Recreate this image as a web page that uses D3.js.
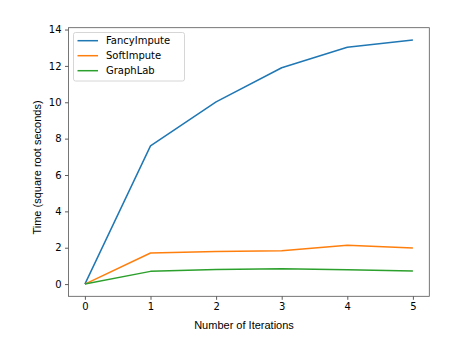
<!DOCTYPE html>
<html>
<head>
<meta charset="utf-8">
<script src="https://cdn.jsdelivr.net/npm/d3@7"></script>
<style>
  html, body { margin: 0; padding: 0; background: #fff; }
  svg { display: block; }
  text { font-family: "DejaVu Sans", sans-serif; fill: #000; }
</style>
</head>
<body>
<svg id="chart" width="471" height="345"></svg>
<script>
// Iteration counts on the x axis
const iterations = [0, 1, 2, 3, 4, 5];

// Timings (square root seconds) per method
const fancyImpute = [0, 7.6, 10.02, 11.9, 13.03, 13.43];
const softImpute  = [0, 1.71, 1.79, 1.84, 2.14, 1.98];
const graphLab    = [0, 0.7, 0.8, 0.84, 0.79, 0.72];

const seriesNames  = ["FancyImpute", "SoftImpute", "GraphLab"];
const seriesValues = [fancyImpute, softImpute, graphLab];
const seriesColors = ["#1f77b4", "#ff7f0e", "#2ca02c"];

const yTicks = [0, 2, 4, 6, 8, 10, 12, 14];

const margin = { left: 68.5, top: 27.7, right: 471 - 429.3, bottom: 345 - 296.3 };
const svg = d3.select("#chart");
const W = +svg.attr("width"), H = +svg.attr("height");

// matplotlib-style 5% padding around the data range
const xMin = 0, xMax = 5;
const yMin = 0, yMax = d3.max(seriesValues.flat());
const xPad = (xMax - xMin) * 0.05, yPad = (yMax - yMin) * 0.05;

const x = d3.scaleLinear().domain([xMin - xPad, xMax + xPad]).range([margin.left, W - margin.right]);
const y = d3.scaleLinear().domain([yMin - yPad, yMax + yPad]).range([H - margin.bottom, margin.top]);

// Axes
const xAxis = d3.axisBottom(x).tickValues(iterations).tickFormat(d3.format("d")).tickSizeOuter(0).tickSize(3.5).tickPadding(3.5);
const yAxis = d3.axisLeft(y).tickValues(yTicks).tickFormat(d3.format("d")).tickSizeOuter(0).tickSize(3.5).tickPadding(3.5);

const gx = svg.append("g").attr("transform", `translate(0,${H - margin.bottom})`).call(xAxis);
const gy = svg.append("g").attr("transform", `translate(${margin.left},0)`).call(yAxis);
[gx, gy].forEach(g => {
  g.select(".domain").remove();
  g.selectAll(".tick line").attr("stroke", "#333").attr("stroke-width", 0.8);
  g.selectAll(".tick text").attr("font-size", 10).attr("fill", "#333").style("font-family", "DejaVu Sans, sans-serif");
});

// Plot frame
svg.append("rect")
  .attr("x", margin.left).attr("y", margin.top)
  .attr("width", W - margin.left - margin.right)
  .attr("height", H - margin.top - margin.bottom)
  .attr("fill", "none").attr("stroke", "#555").attr("stroke-width", 0.8);

// Lines
const line = d3.line().x((d, i) => x(iterations[i])).y(d => y(d));
seriesValues.forEach((vals, k) => {
  svg.append("path")
    .datum(vals)
    .attr("fill", "none")
    .attr("stroke", seriesColors[k])
    .attr("stroke-width", 1.5)
    .attr("stroke-linejoin", "round")
    .attr("d", line);
});

// Axis labels
svg.append("text")
  .attr("x", 244)
  .attr("y", 328.5)
  .attr("text-anchor", "middle")
  .attr("font-size", 11)
  .style("font-family", "Liberation Sans, Arial, sans-serif")
  .text("Number of Iterations");

svg.append("text")
  .attr("transform", `translate(40.5,167.5) rotate(-90)`)
  .attr("text-anchor", "middle")
  .attr("font-size", 11)
  .style("font-family", "Liberation Sans, Arial, sans-serif")
  .text("Time (square root seconds)");

// Legend
const legend = svg.append("g").attr("transform", `translate(73.5,32.5)`);
legend.append("rect")
  .attr("width", 111).attr("height", 48.5).attr("rx", 2)
  .attr("fill", "#fff").attr("fill-opacity", 0.8)
  .attr("stroke", "#ccc").attr("stroke-width", 0.8);
seriesNames.forEach((name, k) => {
  const cy = 8.2 + k * 15;
  legend.append("line")
    .attr("x1", 4).attr("x2", 24.5).attr("y1", cy).attr("y2", cy)
    .attr("stroke", seriesColors[k]).attr("stroke-width", 1.5);
  legend.append("text")
    .attr("x", 32.5).attr("y", cy + 3.6)
    .attr("font-size", 10).attr("fill", "#222")
    .text(name);
});
</script>
</body>
</html>
